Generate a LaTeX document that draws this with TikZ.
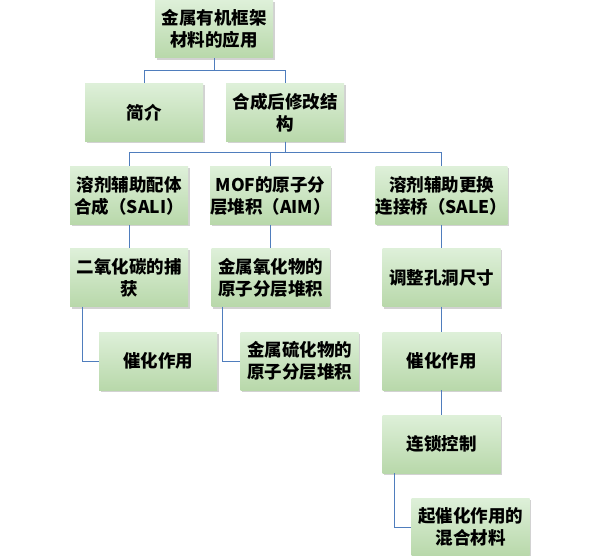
\documentclass[tikz,border=0pt]{standalone}
\usepackage{fontspec}
\setmainfont{Noto Sans CJK SC}
\usetikzlibrary{shadows}
\definecolor{boxtop}{RGB}{222,240,217}
\definecolor{boxbot}{RGB}{184,216,170}
\definecolor{linkblue}{RGB}{79,125,189}
\tikzset{
  item/.style={minimum width=118pt, minimum height=58pt, inner sep=0pt,
    align=center, top color=boxtop, bottom color=boxbot,
    drop shadow={shadow xshift=1.5pt, shadow yshift=-2pt, opacity=0.35},
    font=\fontsize{17.5}{22}\selectfont\bfseries},
  link/.style={draw=linkblue, line width=1pt}
}
\begin{document}
\begin{tikzpicture}[x=1pt, y=-1pt]
        \useasboundingbox[fill=white] (0,0) rectangle (600,556);

        % Radice e primo livello
        \node[item] (root) at (214,29) {金属有机框架\\材料的应用};
        \node[item] (intro) at (144,112.5) {简介};
        \node[item] (post) at (285,112.5) {合成后修改结\\构};

        % Secondo livello
        \node[item] (sali) at (129,195.5) {溶剂辅助配体\\合成（SALI）};
        \node[item] (aim) at (270.5,195.5) {MOF的原子分\\层堆积（AIM）};
        \node[item] (sale) at (441.5,195.5) {溶剂辅助更换\\连接桥（SALE）};

        % Rami sotto SALI e AIM
        \node[item] (co2) at (129,277.5) {二氧化碳的捕\\获};
        \node[item] (oxide) at (270.5,277.5) {金属氧化物的\\原子分层堆积};
        \node[item] (cat1) at (158,361) {催化作用};
        \node[item] (sulfide) at (299.5,361) {金属硫化物的\\原子分层堆积};

        % Colonna sotto SALE
        \node[item] (pore) at (441.5,277.5) {调整孔洞尺寸};
        \node[item] (cat2) at (441.5,361) {催化作用};
        \node[item] (chain) at (441.5,444) {连锁控制};
        \node[item] (mix) at (470.5,527) {起催化作用的\\混合材料};

        % Collegamenti
        \draw[link] (root.south) -- ++(0,12) -| (intro.north);
        \draw[link] (root.south) -- ++(0,12) -| (post.north);
        \draw[link] (post.south) -- ++(0,11) -| (sali.north);
        \draw[link] (post.south) -- ++(0,11) -| (aim.north);
        \draw[link] (post.south) -- ++(0,11) -| (sale.north);
        \draw[link] (sali) -- (co2);
        \draw[link] (aim) -- (oxide);
        \draw[link] (sale) -- (pore);
        \draw[link] (pore) -- (cat2);
        \draw[link] (cat2) -- (chain);
        \draw[link] ([xshift=13pt]co2.south west) |- (cat1.west);
        \draw[link] ([xshift=11pt]oxide.south west) |- (sulfide.west);
        \draw[link] ([xshift=12pt]chain.south west) |- (mix.west);
    \end{tikzpicture}
\end{document}
